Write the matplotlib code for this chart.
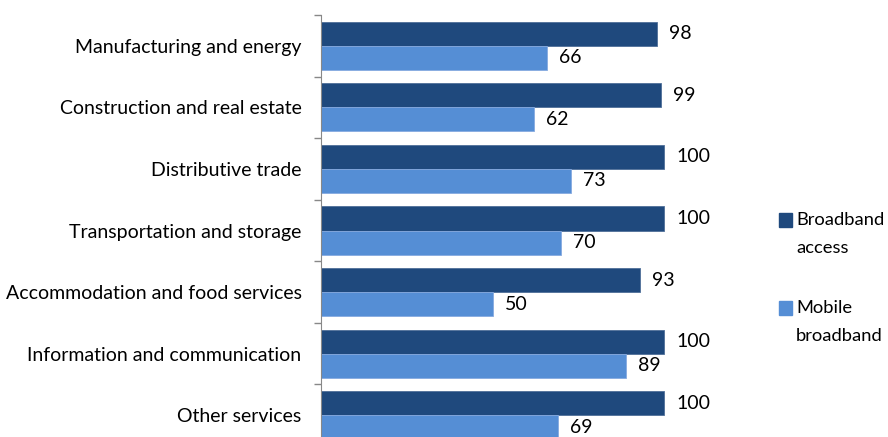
import numpy as np
import matplotlib.pyplot as plt
from matplotlib.patches import Rectangle

plt.rcParams['font.family'] = ['Lato', 'DejaVu Sans']

sectors = ['Manufacturing and energy', 'Construction and real estate',
           'Distributive trade', 'Transportation and storage',
           'Accommodation and food services', 'Information and communication',
           'Other services']
broadband = [98, 99, 100, 100, 93, 100, 100]
mobile = [66, 62, 73, 70, 50, 89, 69]
series = ['Broadband\naccess', 'Mobile\nbroadband']
colors = ['#1F497D', '#558ED5']

W, H = 888, 437
fig = plt.figure(figsize=(W / 100, H / 100), dpi=100)
ax = fig.add_axes([321 / W, -9 / H, 446 / W, 431 / H])

y = np.arange(len(sectors))
bh = 0.39
ax.barh(y - 0.195, broadband, height=bh, color=colors[0], edgecolor='#4F6F99', linewidth=0.6)
ax.barh(y + 0.195, mobile, height=bh, color=colors[1], edgecolor='#86AAE0', linewidth=0.6)

fs = 14
for yi, b, m in zip(y, broadband, mobile):
    ax.text(b + 3.5, yi - 0.195, str(b), va='center', ha='left', fontsize=fs)
    ax.text(m + 3.5, yi + 0.195, str(m), va='center', ha='left', fontsize=fs)

ax.set_xlim(0, 130)
ax.set_ylim(len(sectors) - 0.5, -0.5)
ax.set_yticks(y)
ax.set_yticklabels(sectors, fontsize=fs)
ax.tick_params(axis='y', which='major', length=0, pad=14)
ax.set_yticks(np.arange(len(sectors) + 1) - 0.5, minor=True)
ax.tick_params(axis='y', which='minor', length=5, width=1, color='#888888')
ax.xaxis.set_visible(False)
for s in ['top', 'right', 'bottom']:
    ax.spines[s].set_visible(False)
ax.spines['left'].set_color('#888888')

# legend drawn by hand so the swatch sits on the first text line
for i, (name, c) in enumerate(zip(series, colors)):
    top = 220 + i * 88
    fig.add_artist(Rectangle((779 / W, 1 - (top + 7) / H), 13 / W, 14 / H,
                             transform=fig.transFigure, color=c))
    for j, line in enumerate(name.split('\n')):
        fig.text(796 / W, 1 - (top + j * 28) / H, line, va='center', ha='left', fontsize=13.2)

fig.savefig('out.png', dpi=100)
